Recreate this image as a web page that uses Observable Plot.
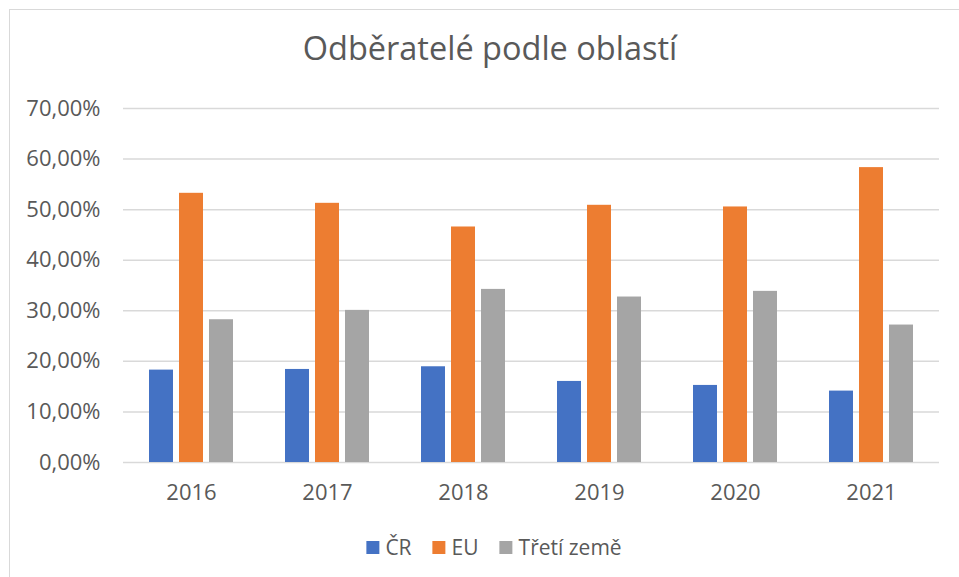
<!DOCTYPE html>
<html>
<head>
<meta charset="utf-8">
<script src="https://cdn.jsdelivr.net/npm/d3@7"></script>
<script src="https://cdn.jsdelivr.net/npm/@observablehq/plot@0.6"></script>
<style>
  html, body { margin: 0; padding: 0; background: #fff; }
  body { width: 959px; height: 577px; position: relative; overflow: hidden; font-family: "Open Sans", sans-serif; color: #595959; }
  #frame { position: absolute; left: 9px; top: 9px; width: 980px; height: 600px; border: 1.5px solid #d9d9d9; box-sizing: border-box; }
  #title { position: absolute; left: 490px; top: 32px; transform: translateX(-50%); font-size: 32.5px; line-height: 1; white-space: nowrap; color: #595959; }
  #chart { position: absolute; left: 0; top: 0; }
  #legend { position: absolute; left: 494px; top: 536px; transform: translateX(-50%); display: flex; align-items: center; gap: 21px; font-size: 21px; line-height: 22px; white-space: nowrap; }
  #legend .item { display: flex; align-items: center; gap: 6px; }
  #legend .sw { width: 13px; height: 13px; display: inline-block; }
</style>
</head>
<body>
<div id="frame"></div>
<div id="chart"></div>
<div id="title"></div>
<div id="legend"></div>
<script>
const titleText = "Odběratelé podle oblastí";
const years = ["2016", "2017", "2018", "2019", "2020", "2021"];
const series = ["ČR", "EU", "Třetí země"];
const colors = ["#4472C4", "#ED7D31", "#A5A5A5"];
const cr = [18.27, 18.40, 18.93, 16.03, 15.24, 14.12];
const eu = [53.23, 51.25, 46.57, 50.86, 50.53, 58.31];
const tz = [28.23, 30.08, 34.23, 32.72, 33.84, 27.18];
const yTicks = [0, 10, 20, 30, 40, 50, 60, 70];

const values = [cr, eu, tz];
const data = years.flatMap((y, i) => series.map((s, j) => ({year: y, series: s, value: values[j][i]})));
const fmt = d => d.toFixed(2).replace(".", ",") + "%";

const chart = Plot.plot({
  width: 959,
  height: 512,
  marginTop: 108,
  marginBottom: 50,
  marginLeft: 121,
  marginRight: 19,
  style: {fontFamily: "Open Sans, sans-serif", fontSize: "22px", color: "#595959", background: "transparent"},
  facet: {data, x: "year"},
  fx: {domain: years, paddingInner: 0, paddingOuter: 0, label: null, axis: "bottom", tickSize: 0, tickPadding: 22},
  x: {domain: series, paddingInner: 0.2, paddingOuter: 0.845, axis: null},
  y: {domain: [0, 70], ticks: yTicks, tickFormat: fmt, tickSize: 0, tickPadding: 23, label: null},
  color: {domain: series, range: colors},
  marks: [
    Plot.ruleY(yTicks, {stroke: "#d9d9d9", strokeWidth: 1.5}),
    Plot.barY(data, {x: "series", y: "value", fill: "series"})
  ]
});
document.getElementById("chart").appendChild(chart);
document.getElementById("title").textContent = titleText;

const legend = document.getElementById("legend");
series.forEach((s, i) => {
  const item = document.createElement("div");
  item.className = "item";
  const sw = document.createElement("span");
  sw.className = "sw";
  sw.style.background = colors[i];
  const t = document.createElement("span");
  t.textContent = s;
  item.appendChild(sw);
  item.appendChild(t);
  legend.appendChild(item);
});
</script>
</body>
</html>
